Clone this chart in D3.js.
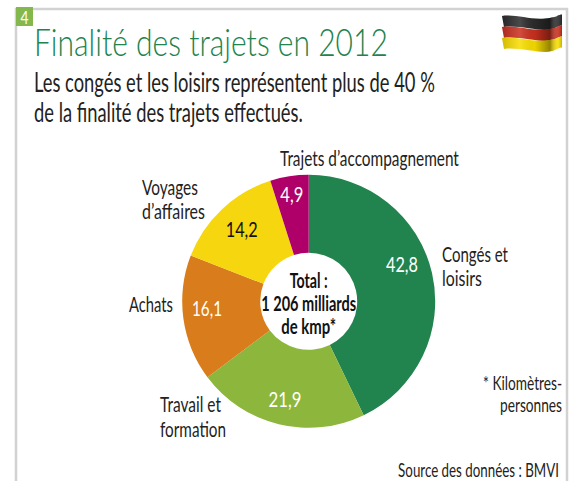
<!DOCTYPE html>
<html><head><meta charset="utf-8">
<script src="https://cdn.jsdelivr.net/npm/d3@7/dist/d3.min.js"></script>
<style>html,body{margin:0;padding:0;background:#fff}svg{display:block}text{font-family:"Lato","Noto Sans",sans-serif}</style>
</head><body><svg id="c" width="574" height="481"></svg>
<script>
const categories=["Congés et loisirs","Travail et formation","Achats","Voyages d’affaires","Trajets d’accompagnement"];
const values=[42.8,21.9,16.1,14.2,4.9];
const valueLabels=["42,8","21,9","16,1","14,2","4,9"];
const colors=["#21834d","#8db63c","#d97c1b","#f6d60f","#ae0068"];
const valueColors=["#fff","#fff","#fff","#111","#fff"];
const title="Finalité des trajets en 2012";
const subtitle=["Les congés et les loisirs représentent plus de 40 %","de la finalité des trajets effectués."];
const centerLines=["Total :","1 206 milliards","de kmp*"];

const svg=d3.select("#c");
const cx=308.7,cy=301.3,R=126.5,r=48.5;

// text condensed horizontally to a measured width
function T(s,x,y,size,w,opt={}){
  const anchor=opt.anchor||"start";
  const t=svg.append("text").attr("font-size",size)
    .attr("fill",opt.fill||"#222").attr("text-anchor",anchor)
    .attr("font-weight",opt.weight||400).text(s);
  const k=w/t.node().getComputedTextLength();
  t.attr("transform",`translate(${x},${y}) scale(${k},1)`);
  return t;
}

// frame
svg.append("path").attr("d","M16,481V9H567V481").attr("fill","none").attr("stroke","#d2d2d2").attr("stroke-width",2.5);
svg.append("rect").attr("x",16).attr("y",7).attr("width",17).attr("height",19).attr("fill","#84b84c");
T("4",20.5,24,17,8,{fill:"#fff",weight:400});

// title
T(title,34,56,38,354,{fill:"#21834d",weight:300});
T(subtitle[0],34,92,27,401);
T(subtitle[1],34,122,27,269);

// donut
const arc=d3.arc().innerRadius(r).outerRadius(R);
const pie=d3.pie().sort(null).value(d=>d);
const arcs=pie(values);
const g=svg.append("g").attr("transform",`translate(${cx},${cy})`);
g.selectAll("path").data(arcs).join("path").attr("d",arc).attr("fill",(d,i)=>colors[i]);

// value labels: shift from arc centroid, and text width
const shift=[[8,-17.6],[-3,12.6],[-15,-5.6],[-7,-9],[-3.5,-20.8]];
const valueW=[32,33,30,32,23];
arcs.forEach((d,i)=>{
  const [x,y]=arc.centroid(d);
  T(valueLabels[i],cx+x+shift[i][0],cy+y+shift[i][1]+8,22,valueW[i],{fill:valueColors[i],anchor:"middle",weight:400});
});

// center text
[[288,38],[311,95],[334,55]].forEach((p,i)=>T(centerLines[i],cx,p[0],20,p[1],{anchor:"middle",weight:700,fill:"#111"}));

// category labels
T("Trajets d’accompagnement",280,166,21,179);
T("Voyages",142,195,21,56);
T("d’affaires",142,219,21,63);
T("Congés et",442,262,21,66);
T("loisirs",442,286,21,40);
T("Achats",129,312,21,44);
T("Travail et",160,412,21,61);
T("formation",160,437,21,66);

// footnotes
T("* Kilomètres-",562,390,19,79,{anchor:"end"});
T("personnes",562,412,19,62,{anchor:"end"});
T("Source des données : BMVI",559,477,19,161,{anchor:"end"});

// flag
const defs=svg.append("defs");
const sh=defs.append("linearGradient").attr("id","sh");
[[0,"#000",.15],[.3,"#fff",.14],[.55,"#000",.05],[.8,"#000",.4],[.93,"#fff",.1],[1,"#000",.2]].forEach(s=>sh.append("stop").attr("offset",s[0]).attr("stop-color",s[1]).attr("stop-opacity",s[2]));
const band=(y0,y1)=>`M502,${y0}C515,${y0-2} 530,${y0+4} 545,${y0+2.5}S556,${y0-1} 562,${y0-1.5}L${562},${y1-1.5}C556,${y1-1} 555,${y1+3} 545,${y1+3}S515,${y1-2} 504,${y1}Z`;
[[16,27,"#2c2c2c"],[27,38,"#c9301f"],[38,49,"#f8dd00"]].forEach(b=>{
  svg.append("path").attr("d",band(b[0],b[1])).attr("fill",b[2]);
  svg.append("path").attr("d",band(b[0],b[1])).attr("fill","url(#sh)");
});
</script></body></html>
